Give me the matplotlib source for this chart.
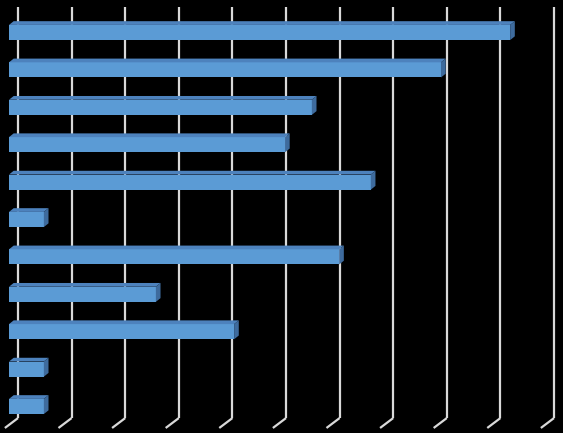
import matplotlib
matplotlib.use("Agg")
import matplotlib.pyplot as plt
from matplotlib.patches import Polygon

# Data (top to bottom)
categories = ["C1", "C2", "C3", "C4", "C5", "C6", "C7", "C8", "C9", "C10", "C11"]
values = [9.35, 8.06, 5.65, 5.15, 6.75, 0.65, 6.16, 2.74, 4.2, 0.65, 0.65]
ticks = list(range(0, 11))

# style / geometry
front_col = "#5b9bd5"
top_col = "#4d82bd"
side_col = "#3e6b9d"
grid_col = "#d9d9d9"
bar_h = 0.405
dx, dy = 0.087, 0.10           # bar depth offset (value units, category units)
wall_off = 0.168               # back wall offset in value units
floor_dx = 0.245               # floor diagonal horizontal run
y_top, y_floor, y_front = -0.682, 10.31, 10.575

fig = plt.figure(figsize=(5.63, 4.33), dpi=100, facecolor="black")
ax = fig.add_axes([0, 0, 1, 1])
ax.set_facecolor("black")
ax.set_xlim(-0.168, 10.336)
ax.set_ylim(10.709, -0.869)
ax.axis("off")

# gridlines on back wall + floor diagonals
for t in ticks:
    xb = t + wall_off
    ax.plot([xb, xb], [y_top, y_floor], color=grid_col, lw=1.6, zorder=1,
            solid_capstyle="butt")
    ax.plot([xb, xb - floor_dx], [y_floor, y_front], color=grid_col, lw=1.6,
            zorder=1, solid_capstyle="butt")

ypos = list(range(len(values)))
ax.barh(ypos, values, height=bar_h, left=0, color=front_col, zorder=3,
        linewidth=0)
for y, v in zip(ypos, values):
    yt = y - bar_h / 2
    yb = y + bar_h / 2
    top = Polygon([(0, yt), (v, yt), (v + dx, yt - dy), (dx, yt - dy)],
                  closed=True, facecolor=top_col, edgecolor="none", zorder=3)
    side = Polygon([(v, yt), (v + dx, yt - dy), (v + dx, yb - dy), (v, yb)],
                   closed=True, facecolor=side_col, edgecolor="none", zorder=3)
    ax.add_patch(top)
    ax.add_patch(side)

fig.savefig("out.png", dpi=100, facecolor="black")
